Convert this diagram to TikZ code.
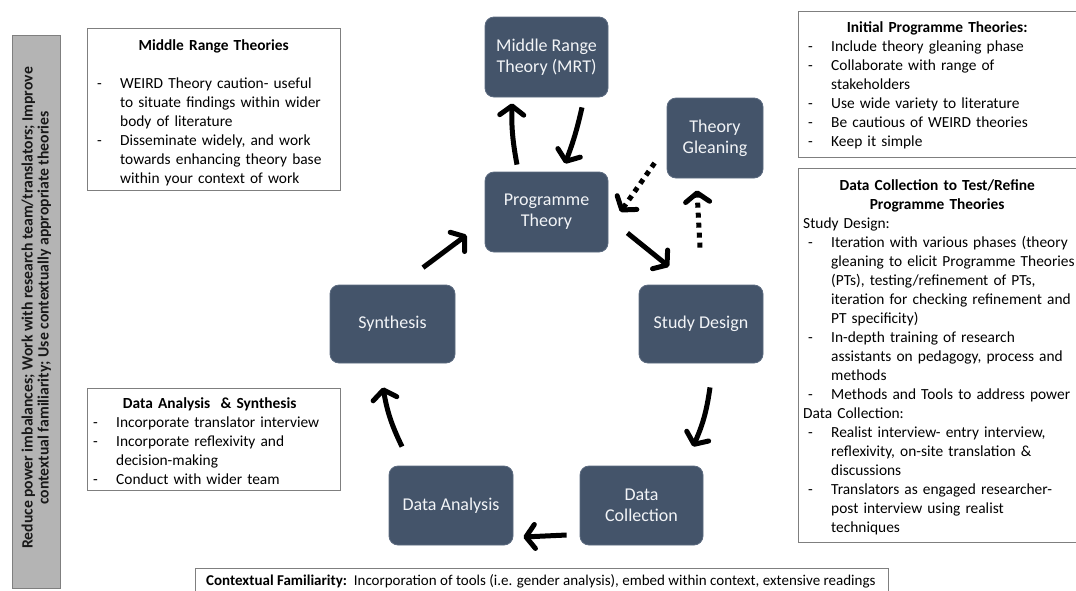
\documentclass[tikz,border=0pt]{standalone}
\usepackage{fontspec}
\setmainfont{Carlito}
\usetikzlibrary{arrows.meta,calc}
\definecolor{nodeblue}{HTML}{44546A}
\definecolor{nodeedge}{HTML}{5C6B80}
\definecolor{nodetext}{HTML}{F2F4F7}
\definecolor{panelgray}{HTML}{B4B4B4}
\definecolor{boxedge}{HTML}{7F7F7F}
\newcommand\dl[1]{\par\noindent\hbox to 28pt{\hspace{5pt}-\hfil}\mbox{#1}}
\newcommand\cl[1]{\par\noindent\hspace{28pt}\mbox{#1}}
\newcommand\pl[1]{\par\noindent\mbox{#1}}
\newcommand\tl[1]{\par\noindent\hbox to \hsize{\hfil\bfseries #1\hfil}}
\begin{document}
\begin{tikzpicture}[x=1pt,y=-1pt,
  proc/.style={rectangle, rounded corners=9pt, fill=nodeblue, draw=nodeedge, line width=0.8pt,
    text=nodetext, align=center, font=\fontsize{18}{21}\selectfont, inner sep=2pt},
  panel/.style={rectangle, draw=boxedge, line width=0.9pt, fill=white, anchor=north west, inner sep=0pt},
  txt/.style={anchor=base west, inner sep=0pt, text width=#1, font=\fontsize{15.4}{19}\selectfont},
  arr/.style={line width=5pt, -{Straight Barb[length=9pt,width=24pt,line width=5pt,round]}},
  dotarr/.style={arr, dash pattern=on 5pt off 5pt}
]
\useasboundingbox (0,0) rectangle (1076,590);
\fill[white] (0,0) rectangle (1076,590);

% left vertical panel
\node[panel, fill=panelgray, minimum width=48, minimum height=553] (side) at (12,35) {};
\node[rotate=90, align=center, font=\bfseries\fontsize{15.7}{16}\selectfont, text=black!90] (sidetext) at ($(side.center)+(0,-4)$)
  {Reduce power imbalances; Work with research team/translators; Improve\\contextual familiarity; Use contextually appropriate theories};

% Middle range theories box
\node[panel, minimum width=253, minimum height=162] (mrtbox) at (87,28) {};
\node[txt=243pt] (mrttext) at (92,31) {%
\tl{Middle Range Theories}
\pl{\strut}
\dl{WEIRD Theory caution- useful}
\cl{to situate findings within wider}
\cl{body of literature}
\dl{Disseminate widely, and work}
\cl{towards enhancing theory base}
\cl{within your context of work}};

% Initial programme theories box
\node[panel, minimum width=278, minimum height=146] (iptbox) at (798,11) {};
\node[txt=268pt] (ipttext) at (803,13) {%
\tl{Initial Programme Theories:}
\dl{Include theory gleaning phase}
\dl{Collaborate with range of}
\cl{stakeholders}
\dl{Use wide variety to literature}
\dl{Be cautious of WEIRD theories}
\dl{Keep it simple}};

% Data collection box
\node[panel, minimum width=278, minimum height=374] (dcbox) at (798,168) {};
\node[txt=268pt] (dctext) at (803,171) {%
\tl{Data Collection to Test/Refine}
\tl{Programme Theories}
\pl{Study Design:}
\dl{Iteration with various phases (theory}
\cl{gleaning to elicit Programme Theories}
\cl{(PTs), testing/refinement of PTs,}
\cl{iteration for checking refinement and}
\cl{PT specificity)}
\dl{In-depth training of research}
\cl{assistants on pedagogy, process and}
\cl{methods}
\dl{Methods and Tools to address power}
\pl{Data Collection:}
\dl{Realist interview- entry interview,}
\cl{reflexivity, on-site translation \&}
\cl{discussions}
\dl{Translators as engaged researcher-}
\cl{post interview using realist}
\cl{techniques}};

% Data analysis box
\node[panel, minimum width=253, minimum height=102] (dabox) at (87,388) {};
\node[txt=243pt] (datext) at (88,389) {%
\tl{Data Analysis\ \ \& Synthesis}
\dl{Incorporate translator interview}
\dl{Incorporate reflexivity and}
\cl{decision-making}
\dl{Conduct with wider team}};

% Contextual familiarity box
\node[panel, minimum width=693, minimum height=30] (cfbox) at (195,568) {};
\node[anchor=base west, inner sep=0pt, font=\fontsize{15}{16}\selectfont] (cftext) at (206,585)
  {\textbf{Contextual Familiarity:}\ \ Incorporation of tools (i.e. gender analysis), embed within context, extensive readings};

% process nodes
\node[proc, minimum width=123, minimum height=80] (mrt) at (546.5,57) {Middle Range\\Theory (MRT)};
\node[proc, minimum width=96, minimum height=80] (tg) at (715,138) {Theory\\Gleaning};
\node[proc, minimum width=123, minimum height=80] (pt) at (546.5,212) {Programme\\Theory};
\node[proc, minimum width=125, minimum height=78] (syn) at (392.5,324) {Synthesis};
\node[proc, minimum width=124, minimum height=78] (sd) at (701,324) {Study Design};
\node[proc, minimum width=124, minimum height=79] (da) at (451,505.5) {Data Analysis};
\node[proc, minimum width=123, minimum height=79] (dc) at (641.5,505.5) {Data\\Collection};

% arrows
\draw[arr] ($(pt.north)+(-29.5,-7)$) to[bend left=6] ($(mrt.south)+(-34.5,6)$);
\draw[arr] ($(mrt.south)+(35.5,10)$) to[bend left=4] ($(pt.north)+(18.5,-8)$);
\draw[dotarr] ($(tg.west)+(-12,25)$) -- ($(pt.east)+(12,0)$);
\draw[dotarr] ($(sd.north)+(-1,-37)$) -- ($(tg.south)+(-18,12)$);
\draw[arr] ($(pt.east)+(19,21)$) -- ($(sd.north)+(-32,-18)$);
\draw[arr] ($(syn.north)+(30.5,-17)$) -- ($(pt.west)+(-18,23)$);
\draw[arr] ($(sd.south)+(9,24)$) to[bend left=8] ($(dc.north)+(51.5,-19)$);
\draw[arr] ($(dc.west)+(-13,29.5)$) -- ($(da.east)+(10,31.5)$);
\draw[arr] ($(da.north)+(-49,-19)$) to[bend left=8] ($(syn.south)+(-9.5,24)$);
\end{tikzpicture}
\end{document}
